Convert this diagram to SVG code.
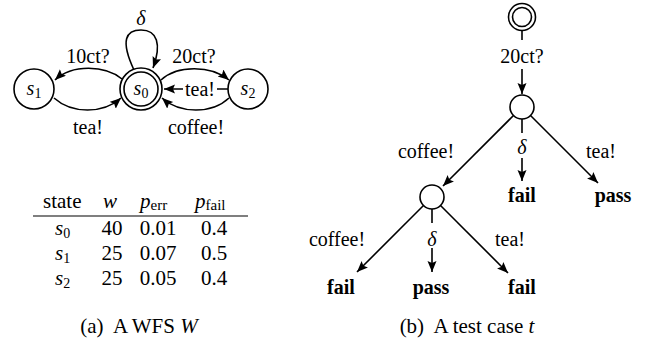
<svg xmlns="http://www.w3.org/2000/svg" width="649" height="343" viewBox="0 0 649 343" font-family="'Liberation Serif', Tinos, 'Noto Serif', 'Times New Roman', 'Nimbus Roman', FreeSerif, 'DejaVu Serif', serif">
<style>
text{font-family:'Liberation Serif',Tinos,'Noto Serif','Times New Roman','Nimbus Roman',FreeSerif,'DejaVu Serif',serif;font-size:20px;fill:#000}
.c{text-anchor:middle}
.i{font-style:italic}
.b{font-weight:bold}
.sub{font-size:14px;font-style:normal}
.cap{font-size:21px}
.st{fill:#fff;stroke:#000;stroke-width:1.6}
.e{fill:none;stroke:#000;stroke-width:1.6;marker-end:url(#ah)}
.ln{fill:none;stroke:#000;stroke-width:1.2}
</style>
<defs>
<marker id="ah" markerUnits="userSpaceOnUse" markerWidth="12" markerHeight="10" refX="11" refY="4.5" orient="auto">
<path d="M0,0 L11,4.5 L0,9 L2,4.5 Z" fill="#000"/>
</marker>
</defs>

<!-- (a) WFS -->
<g id="connectors-a">
<path class="e" d="M134,70 C120,40 126,30 141,30 C157,30 162,44 153,68"/>
<path class="e" d="M122,79 C105,65 72,64 55,80"/>
<path class="e" d="M54,98 C72,114 103,114 121,98"/>
<path class="e" d="M161,80 C177,65 211,65 229,80"/>
<path class="e" d="M228,89 L217,89 M183,89 L164,89"/>
<path class="e" d="M229,98 C212,114 180,114 162,98"/>
<text class="c i" x="141" y="25">δ</text>
<text class="c" x="88" y="63">10ct?</text>
<text class="c" x="88" y="134">tea!</text>
<text class="c" x="194" y="63">20ct?</text>
<text class="c" x="200" y="96">tea!</text>
<text class="c" x="196" y="134">coffee!</text>
</g>
<g id="s1"><circle class="st" cx="34" cy="89" r="20"/><text class="c" x="34" y="95"><tspan class="i">s</tspan><tspan class="sub" dy="3">1</tspan></text></g>
<g id="s0"><circle class="st" cx="141" cy="89" r="21"/><circle class="st" cx="141" cy="89" r="17"/><text class="c" x="141" y="95"><tspan class="i">s</tspan><tspan class="sub" dy="3">0</tspan></text></g>
<g id="s2"><circle class="st" cx="248" cy="89" r="20"/><text class="c" x="248" y="95"><tspan class="i">s</tspan><tspan class="sub" dy="3">2</tspan></text></g>

<g id="table">
<text class="cap" x="43" y="208">state</text>
<text class="c cap i" x="110" y="208">w</text>
<text class="cap" x="140" y="208"><tspan class="i">p</tspan><tspan font-size="15" dy="2">err</tspan></text>
<text class="cap" x="195" y="208"><tspan class="i">p</tspan><tspan font-size="15" dy="2">fail</tspan></text>
<line class="ln" x1="33" y1="216" x2="248" y2="216"/>
<text class="cap" x="55" y="235"><tspan class="i">s</tspan><tspan class="sub" dy="3">0</tspan></text>
<text class="c cap" x="112" y="235">40</text>
<text class="c cap" x="158" y="235">0.01</text>
<text class="c cap" x="214" y="235">0.4</text>
<text class="cap" x="55" y="260"><tspan class="i">s</tspan><tspan class="sub" dy="3">1</tspan></text>
<text class="c cap" x="112" y="260">25</text>
<text class="c cap" x="158" y="260">0.07</text>
<text class="c cap" x="214" y="260">0.5</text>
<text class="cap" x="55" y="285"><tspan class="i">s</tspan><tspan class="sub" dy="3">2</tspan></text>
<text class="c cap" x="112" y="285">25</text>
<text class="c cap" x="158" y="285">0.05</text>
<text class="c cap" x="214" y="285">0.4</text>
</g>
<text class="c cap" x="139" y="333" xml:space="preserve">(a)  A WFS <tspan class="i">W</tspan></text>

<!-- (b) test case -->
<g id="connectors-b">
<path class="e" d="M522,31 L522,40 M522,69 L522,94"/>
<path class="e" d="M513.5,115.5 L443,186"/>
<path class="e" d="M522,119 L522,133 M522,158 L522,181"/>
<path class="e" d="M530.5,115.5 L598,183"/>
<path class="e" d="M423.5,205.5 L357,272"/>
<path class="e" d="M432,209 L432,223 M432,248 L432,272"/>
<path class="e" d="M440.5,205.5 L508,273"/>
<text class="c" x="522" y="63">20ct?</text>
<text class="c" x="426" y="158">coffee!</text>
<text class="c i" x="522" y="154">δ</text>
<text class="c" x="601" y="158">tea!</text>
<text class="c" x="337" y="246">coffee!</text>
<text class="c i" x="432" y="246">δ</text>
<text class="c" x="510" y="246">tea!</text>
</g>
<g id="t0"><circle class="st" cx="522" cy="17" r="13.5"/><circle class="st" cx="522" cy="17" r="9.5"/></g>
<g id="t1"><circle class="st" cx="522" cy="107" r="12"/></g>
<g id="t2"><circle class="st" cx="432" cy="197" r="12"/></g>
<g id="v-fail1"><text class="c b" x="522" y="202">fail</text></g>
<g id="v-pass1"><text class="c b" x="613" y="202">pass</text></g>
<g id="v-fail2"><text class="c b" x="341" y="294">fail</text></g>
<g id="v-pass2"><text class="c b" x="431" y="294">pass</text></g>
<g id="v-fail3"><text class="c b" x="522" y="294">fail</text></g>
<text class="c cap" x="467" y="333" xml:space="preserve">(b)  A test case <tspan class="i">t</tspan></text>
</svg>
